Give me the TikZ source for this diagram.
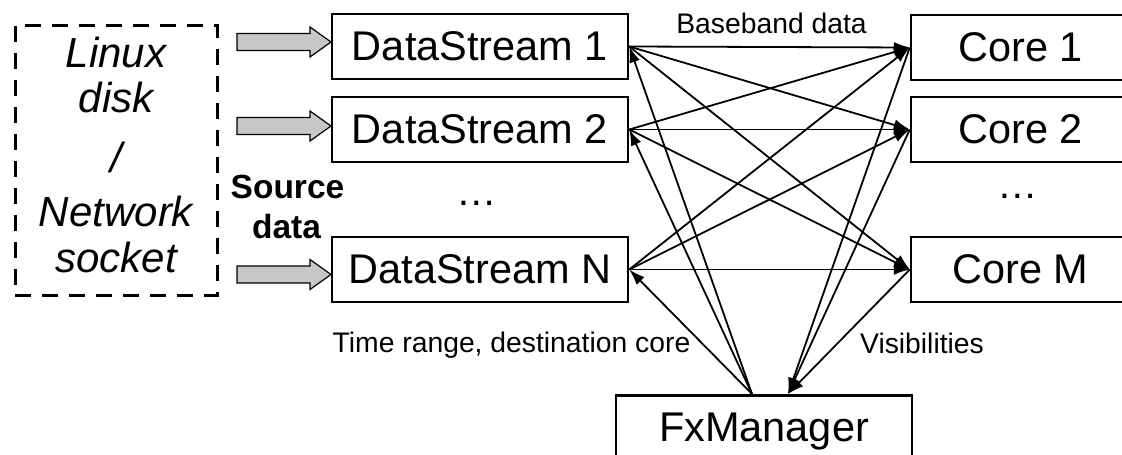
\documentclass[tikz,border=0pt]{standalone}
\usepackage{fontspec}
\setmainfont{Liberation Sans}
\usetikzlibrary{arrows.meta,calc}
\begin{document}
\begin{tikzpicture}[x=1pt,y=-1pt,
  box/.style={draw, line width=2.5pt, inner sep=0pt, font=\fontsize{41.5}{48}\selectfont},
  ds/.style={box, minimum width=296pt, minimum height=65pt},
  core/.style={box, minimum width=219pt, minimum height=65pt},
  lbl/.style={font=\fontsize{28.3}{32}\selectfont, inner sep=0pt, anchor=base},
  srctxt/.style={font=\fontsize{42}{48}\selectfont\itshape, inner sep=0pt, anchor=base},
  boldtxt/.style={font=\fontsize{33.5}{38}\selectfont\bfseries, inner sep=0pt, anchor=base},
  dots/.style={font=\fontsize{40.5}{48}\selectfont, inner sep=0pt, anchor=base},
  conn/.style={line width=1.8pt, -{Latex[length=16pt,width=11pt]}},
  barrow/.style={draw, line width=1.2pt, fill=black!22},
]
\useasboundingbox (0,0) rectangle (1122,455);

% source box
\node[draw, line width=3pt, dash pattern=on 16pt off 11pt, minimum width=202pt, minimum height=270pt, inner sep=0pt] (srcbox) at (116,160) {};
\node[srctxt] (l1) at (116,67) {Linux};
\node[srctxt] (l2) at (116,112) {disk};
\node[srctxt] (l3) at (116,172) {/};
\node[srctxt] (l4) at (116,226) {Network};
\node[srctxt] (l5) at (116,272) {socket};

\node[boldtxt] (s1) at (287.5,198) {Source};
\node[boldtxt] (s2) at (286.5,238) {data};

% datastreams
\node[ds] (ds1) at (480,46.5) {DataStream 1};
\node[ds] (ds2) at (480,129.5) {DataStream 2};
\node[ds] (dsn) at (480,269.5) {DataStream N};
\node[dots] (dd1) at (477,205) {…};

% cores
\node[core] (c1) at (1020.5,47.5) {Core 1};
\node[core] (c2) at (1020.5,129.5) {Core 2};
\node[core] (cm) at (1020.5,269.5) {Core M};
\node[dots] (dd2) at (1018,198) {…};

% fx manager
\node[box, minimum width=296pt, minimum height=96pt, anchor=north, text height=46pt, text depth=50pt] (fx) at (764,394) {FxManager};
\coordinate (fxA) at ($(fx.north)+(-12,0)$);
\coordinate (fxB) at ($(fx.north)+(24,0)$);

% block arrows
\coordinate (a1) at (331,42);
\coordinate (a2) at (331,126);
\coordinate (an) at (331,274.5);
\foreach \a in {a1,a2,an}{
  \draw[barrow] (\a) -- ++(-21,-15) -- ++(0,6.5) -- ++(-73,0) -- ++(0,17) -- ++(73,0) -- ++(0,6.5) -- cycle;
}

% data stream to core connectors
\foreach \s in {ds1,ds2,dsn}{
  \foreach \c in {c1,c2,cm}{
    \draw[conn] (\s.east) -- (\c.west);
  }
}
% fxmanager to datastreams
\foreach \s in {ds1,ds2,dsn}{
  \draw[conn] (fxA) -- (\s.east);
}
% cores to fxmanager
\foreach \c in {c1,c2,cm}{
  \draw[conn] (\c.west) -- (fxB);
}

% labels
\node[lbl] (bb) at (771.5,33) {Baseband data};
\node[lbl] (tr) at (511.5,352) {Time range, destination core};
\node[lbl] (vis) at (922,353) {Visibilities};
\end{tikzpicture}
\end{document}
